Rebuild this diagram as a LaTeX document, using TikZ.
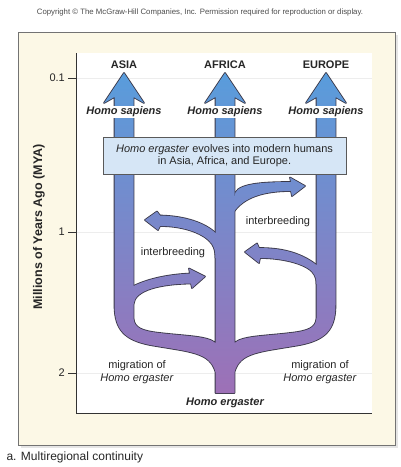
\documentclass[tikz,border=0pt]{standalone}
\usepackage{fontspec}
\setmainfont{Liberation Sans}
\usetikzlibrary{positioning}

\definecolor{panel}{HTML}{FCF8E6}
\definecolor{treetop}{RGB}{88,157,220}
\definecolor{treemid}{RGB}{128,148,210}
\definecolor{treebot}{RGB}{158,112,182}
\definecolor{treeedge}{HTML}{3A3848}
\definecolor{notefill}{HTML}{D6E6F6}

\newcommand\treebody{(114.5,97) -- (104,103) -- (124,73) -- (144,103) -- (133.5,97)
  -- (133.5,318) .. controls (134,328) and (142,331) .. (160,333)
  .. controls (185,336) and (208,336) .. (215.5,343)
  -- (215.5,97) -- (205,103) -- (225,73) -- (245,103) -- (234.5,97)
  -- (234.5,343) .. controls (242,336) and (265,336) .. (290,333)
  .. controls (308,331) and (316,328) .. (316.5,318)
  -- (316.5,97) -- (306,103) -- (326,73) -- (346,103) -- (335.5,97)
  -- (335.5,305) .. controls (335.5,330) and (325,340) .. (300,345)
  .. controls (260,352) and (240,352) .. (234.5,372)
  -- (234.5,393) -- (215.5,393) -- (215.5,372)
  .. controls (210,352) and (190,352) .. (150,345)
  .. controls (125,340) and (114.5,330) .. (114.5,305) -- cycle}
\newcommand\armone{(125,284) -- (133.5,286) .. controls (150,278) and (170,274.5) .. (190,273.5)
  -- (189,268.5) -- (205,276.5) -- (192,288) -- (191,283.5)
  .. controls (160,284) and (135,290) .. (133.5,304) -- (125,304) -- cycle}
\newcommand\armtwo{(224,230) -- (215.5,233) .. controls (205,223) and (185,216) .. (160,215.5)
  -- (157,211.5) -- (145,220) -- (158,230) -- (160,226)
  .. controls (185,226) and (205,234) .. (212,244)
  .. controls (214.5,248) and (215.5,252) .. (215.5,258) -- (224,258) -- cycle}
\newcommand\armthree{(226,196) -- (234.5,196) .. controls (235,185) and (255,182) .. (291,182)
  -- (290,177.5) -- (305,186) -- (292,196) -- (291,191)
  .. controls (262,191) and (244,198) .. (234.5,211) -- (226,211) -- cycle}
\newcommand\armfour{(325,262) -- (316.5,265) .. controls (300,252) and (280,248) .. (259,248)
  -- (257,243.5) -- (245,252) -- (259,263) -- (260,258)
  .. controls (285,258) and (310,265) .. (314.5,275)
  .. controls (316,278) and (316.5,280) .. (316.5,284) -- (325,284) -- cycle}

\begin{document}
\begin{tikzpicture}[
  x=1pt, y=-1pt,
  lbl/.style={font=\fontsize{11}{13}\selectfont, text=black!85, inner sep=1pt},
  cont/.style={lbl, font=\fontsize{11}{13}\selectfont\bfseries},
  spc/.style={lbl, font=\fontsize{11}{13}\selectfont\bfseries\itshape},
  notebox/.style={lbl, draw=black!65, fill=notefill, line width=0.6pt,
                  minimum width=243pt, minimum height=37pt, align=center,
                  font=\fontsize{11}{12.5}\selectfont},
  axis/.style={draw=black!80, line width=0.9pt},
  gridln/.style={draw=black!7, line width=0.6pt},
  treeline/.style={draw=treeedge, line width=1.7pt, line join=round},
  treefill/.style={path picture={\shade[top color=treetop, middle color=treemid,
                   bottom color=treebot] (90,70) rectangle (360,395);}},
]
\useasboundingbox (0,0) rectangle (400,467);

\fill[black!10] (21,35) rectangle (398,448);
\draw[black!55, fill=panel, line width=0.7pt] (18,32) rectangle (395,445);
\fill[white] (76,53) rectangle (372,413);

\node[font=\fontsize{7.8}{9}\selectfont, text=black!70] (copy) at (200,12)
     {Copyright \textcopyright{} The McGraw-Hill Companies, Inc. Permission required for reproduction or display.};

\foreach \y/\t/\n in {78/0.1/a, 232/1/b, 373/2/c} {
  \draw[gridln] (76,\y) -- (372,\y);
  \draw[axis] (68,\y) -- (76,\y);
  \node[lbl, anchor=east] (tk\n) at (66,\y) {\t};
}
\draw[axis] (76,53) |- (372,413);
\node[font=\fontsize{12.5}{14}\selectfont\bfseries, text=black!85, rotate=90] (ylab)
     at (39,227) {Millions of Years Ago (MYA)};

\draw[treeline] \treebody;
\draw[treeline] \armone;
\draw[treeline] \armtwo;
\draw[treeline] \armthree;
\draw[treeline] \armfour;
\path[treefill] \treebody;
\path[treefill] \armone;
\path[treefill] \armtwo;
\path[treefill] \armthree;
\path[treefill] \armfour;

\node[cont] (asia) at (124,65) {ASIA};
\node[cont] (africa) at (225,65) {AFRICA};
\node[cont] (europe) at (326,65) {EUROPE};
\node[spc, fill=white] (hsa) at (124,112) {Homo sapiens};
\node[spc, fill=white] (hsb) at (225,112) {Homo sapiens};
\node[spc, fill=white] (hsc) at (326,112) {Homo sapiens};

\node[notebox] (note) at (224.5,155.5)
     {\textit{Homo ergaster} evolves into modern humans\\ in Asia, Africa, and Europe.};

\node[lbl] (ibl) at (173,253) {interbreeding};
\node[lbl] (ibr) at (278,222) {interbreeding};
\node[lbl, align=center] (migl) at (137,372) {migration of\\ \textit{Homo ergaster}};
\node[lbl, align=center] (migr) at (320,372) {migration of\\ \textit{Homo ergaster}};
\node[spc] (herg) at (225,403) {Homo ergaster};

\node[font=\fontsize{12}{14}\selectfont, text=black!85, anchor=west] (cap)
     at (3,457) {a. Multiregional continuity};
\end{tikzpicture}
\end{document}
